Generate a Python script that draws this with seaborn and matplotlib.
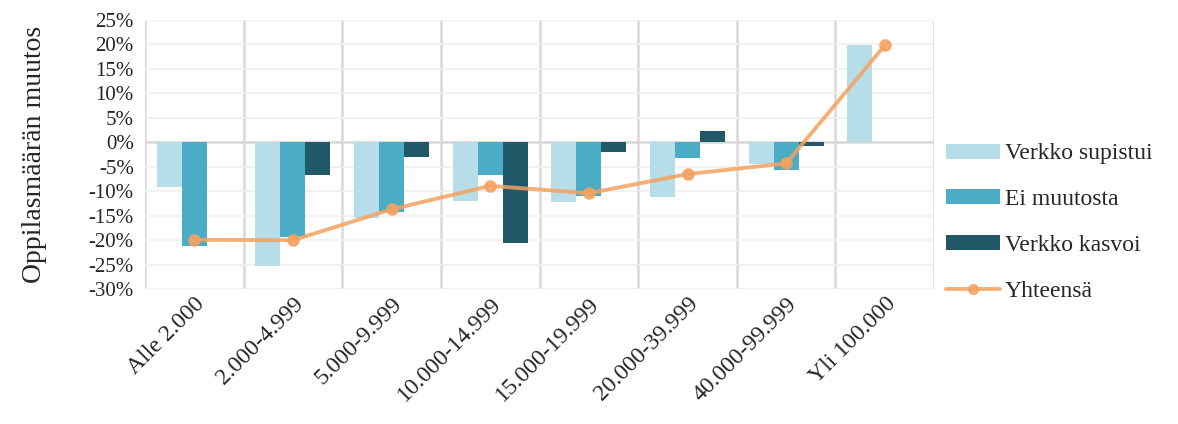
import numpy as np
import pandas as pd
import matplotlib
matplotlib.use('Agg')
import matplotlib.pyplot as plt
from matplotlib.patches import Patch
from matplotlib.lines import Line2D
from matplotlib.ticker import PercentFormatter
import seaborn as sns

categories = ['Alle 2.000', '2.000-4.999', '5.000-9.999', '10.000-14.999',
              '15.000-19.999', '20.000-39.999', '40.000-99.999', 'Yli 100.000']
series_names = ['Verkko supistui', 'Ei muutosta', 'Verkko kasvoi']
supistui = [-9.1, -25.2, -15.5, -11.9, -12.1, -11.2, -4.5, 19.8]
ei_muutosta = [-21.2, -19.4, -14.3, -6.6, -11.0, -3.3, -5.7, np.nan]
kasvoi = [np.nan, -6.6, -2.9, -20.6, -2.0, 2.3, -0.8, np.nan]
yhteensa = [-19.9, -20.0, -13.7, -8.9, -10.4, -6.5, -4.3, 19.8]
total_name = 'Yhteensä'

bar_colors = ['#b7dde8', '#4bacc6', '#215968']
line_color = '#f4a261'

sns.set_style('white')
plt.rcParams['font.family'] = ['Liberation Serif', 'DejaVu Serif']
plt.rcParams['axes.unicode_minus'] = False

df = pd.DataFrame({
    'category': np.repeat(categories, 3).tolist(),
    'series': series_names * len(categories),
    'value': np.column_stack([supistui, ei_muutosta, kasvoi]).ravel(),
})

fig = plt.figure(figsize=(11.78, 4.24), dpi=100)
ax = fig.add_axes([0.123, 0.318, 0.670, 0.635])

sns.barplot(data=df, x='category', y='value', hue='series', order=categories,
            hue_order=series_names, palette=bar_colors, width=0.76,
            saturation=1, errorbar=None, edgecolor='none', legend=False,
            ax=ax, zorder=2)

sns.pointplot(x=categories, y=yhteensa, color=line_color, markers='o',
              markersize=7, linewidth=2.8, ax=ax, zorder=4)
for art in ax.lines:
    art.set_alpha(0.85)

ax.axhline(0, color='#d9d9d9', lw=1.8, zorder=1)
ax.set_ylim(-30, 25)
ax.set_xlim(-0.5, len(categories) - 0.5)
ax.set_yticks(np.arange(-30, 26, 5))
ax.yaxis.set_major_formatter(PercentFormatter(decimals=0))
ax.set_xticks(np.arange(-0.5, len(categories)), minor=True)
ax.grid(axis='y', which='major', color='#efefef', lw=1.2, zorder=0)
ax.grid(axis='x', which='minor', color='#d9d9d9', lw=1.8, zorder=0)
ax.grid(axis='x', which='major', visible=False)
ax.set_axisbelow(True)
for s in ax.spines.values():
    s.set_visible(False)
ax.tick_params(axis='both', which='both', length=0)
ax.tick_params(axis='y', labelsize=15, pad=8)
ax.tick_params(axis='x', labelsize=17, pad=3)
plt.setp(ax.get_xticklabels(), rotation=45, ha='right', rotation_mode='anchor')
ax.set_xlabel('')
ax.set_ylabel('Oppilasmäärän muutos', fontsize=20, labelpad=30)

handles = [Patch(facecolor=c, edgecolor='none') for c in bar_colors]
handles.append(Line2D([0], [0], color=line_color, lw=2.8, marker='o',
                      markersize=7, alpha=0.85))
fig.legend(handles, series_names + [total_name], loc='center left',
           bbox_to_anchor=(0.785, 0.475), frameon=False, fontsize=17,
           handlelength=2.3, handleheight=0.6, labelspacing=1.05,
           handletextpad=0.2)

fig.savefig('out.png', dpi=100)
